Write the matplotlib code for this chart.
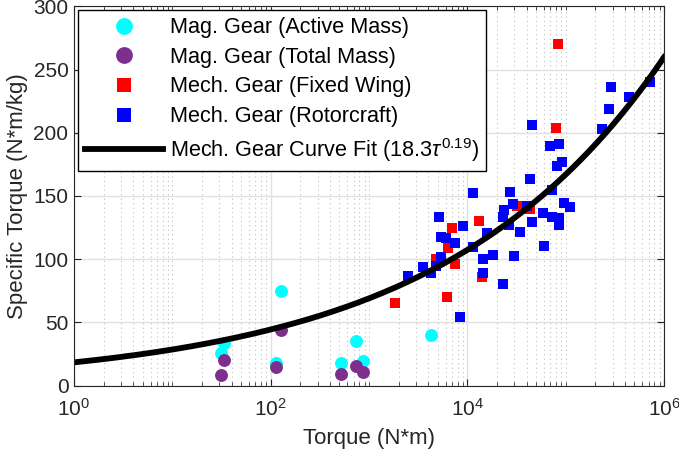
import numpy as np
import matplotlib
matplotlib.use("Agg")
import matplotlib.pyplot as plt
from matplotlib.ticker import FixedLocator, LogLocator, NullFormatter

plt.rcParams['font.family'] = ['Liberation Sans', 'DejaVu Sans']
plt.rcParams['mathtext.fontset'] = 'custom'
plt.rcParams['mathtext.rm'] = 'Liberation Sans'
plt.rcParams['mathtext.it'] = 'Liberation Sans:italic'

# magnetic gears, active mass only
mag_active_torque = [31.1, 33.6, 113.5, 127.6, 520, 734, 865, 4254]
mag_active_spec = [25.5, 33.9, 18.0, 74.8, 17.6, 35.0, 19.2, 40.0]

# magnetic gears, total mass
mag_total_torque = [31.1, 33.8, 113.5, 127.6, 520, 734, 865]
mag_total_spec = [8.5, 20.2, 14.6, 43.9, 9.3, 15.7, 10.4]

# mechanical gears, fixed wing
fw_torque = [1844, 4819, 6237, 6330, 7000, 7460, 13200, 14030, 31860, 43500, 80000, 84500]
fw_spec = [65, 100, 70, 108.5, 125, 96, 130, 86, 142, 140, 204, 270]

# mechanical gears, rotorcraft
rc_torque = [2500, 3580, 4256, 4820, 5420, 5130, 5420, 6085, 7570, 8510,
             9060, 11380, 11530, 14580, 14580, 15780, 18450, 22960, 29920, 23270,
             23870, 26800, 29000, 27230, 34430, 40270, 45300, 43500, 45300, 58600,
             60400, 72400, 72400, 86500, 86500, 69000, 86300, 81300, 92100, 96000,
             111200, 233500, 277300, 290600, 435600, 724000]
rc_spec = [86.7, 94, 88.8, 94.8, 102, 133, 117.2, 116.7, 112.5, 54,
           126.5, 152.5, 109.3, 100.3, 89, 120.4, 103.5, 80.2, 102.2, 133.5,
           138.5, 126.6, 143.5, 152.7, 121.2, 142.4, 129.2, 163.3, 206.3, 136.7,
           110.6, 154.9, 133.3, 132.3, 127, 189.3, 191, 174, 177, 144,
           141.3, 203.2, 218.5, 236, 228, 240]

# curve fit (legend rounds the exponent)
fit_a = 18.3
fit_b = 0.192

dark = (0.15, 0.15, 0.15)

fig = plt.figure(figsize=(6.79, 4.59), dpi=100)
ax = fig.add_axes([74 / 679, 1 - 385.5 / 459, 590 / 679, 379.2 / 459])

ax.plot(mag_active_torque, mag_active_spec, 'o', color=(0, 1, 1), ms=9.3, mew=0,
        label='Mag. Gear (Active Mass)')
ax.plot(mag_total_torque, mag_total_spec, 'o', color=(0.494, 0.184, 0.556), ms=9.3, mew=0,
        label='Mag. Gear (Total Mass)')
ax.plot(fw_torque, fw_spec, 's', color=(1, 0, 0), ms=7.7, mew=0,
        label='Mech. Gear (Fixed Wing)')
ax.plot(rc_torque, rc_spec, 's', color=(0, 0, 1), ms=7.7, mew=0,
        label='Mech. Gear (Rotorcraft)')

tau = np.logspace(0, 6, 300)
ax.plot(tau, fit_a * tau ** fit_b, color='k', lw=4.2,
        label='Mech. Gear Curve Fit (18.3$\\tau^{0.19}$)')

ax.set_xscale('log')
ax.set_xlim(1, 1e6)
ax.set_ylim(0, 300)
ax.xaxis.set_major_locator(FixedLocator([1, 1e2, 1e4, 1e6]))
ax.set_xticklabels(['$10^{0}$', '$10^{2}$', '$10^{4}$', '$10^{6}$'])
ax.xaxis.set_minor_locator(LogLocator(base=10, subs=np.arange(1, 10), numticks=20))
ax.xaxis.set_minor_formatter(NullFormatter())
ax.set_yticks(np.arange(0, 301, 50))

ax.grid(True, which='major', color=(0.88, 0.88, 0.88), lw=1, ls='-')
ax.grid(True, which='minor', axis='x', color=(0.75, 0.75, 0.75), lw=0.8, ls=(0, (1, 3)))
ax.set_axisbelow(True)

ax.tick_params(which='both', direction='in', top=True, right=True,
               colors=dark, labelsize=15)
ax.tick_params(which='major', length=5)
ax.tick_params(which='minor', length=3)
ax.tick_params(axis='x', which='major', pad=9)
ax.tick_params(axis='y', which='major', pad=4)
for s in ax.spines.values():
    s.set_color(dark)

ax.set_xlabel('Torque (N*m)', fontsize=16, color=dark, labelpad=6)
ax.set_ylabel('Specific Torque (N*m/kg)', fontsize=16, color=dark, labelpad=4)

leg = ax.legend(loc='upper left', fontsize=15.6, fancybox=False, framealpha=1,
                edgecolor='k', borderaxespad=0.17, handlelength=3.6, handletextpad=0.32,
                labelspacing=0.4, markerscale=1.3, borderpad=0.33)
leg.get_frame().set_linewidth(1)

fig.savefig('out.png', dpi=100)
